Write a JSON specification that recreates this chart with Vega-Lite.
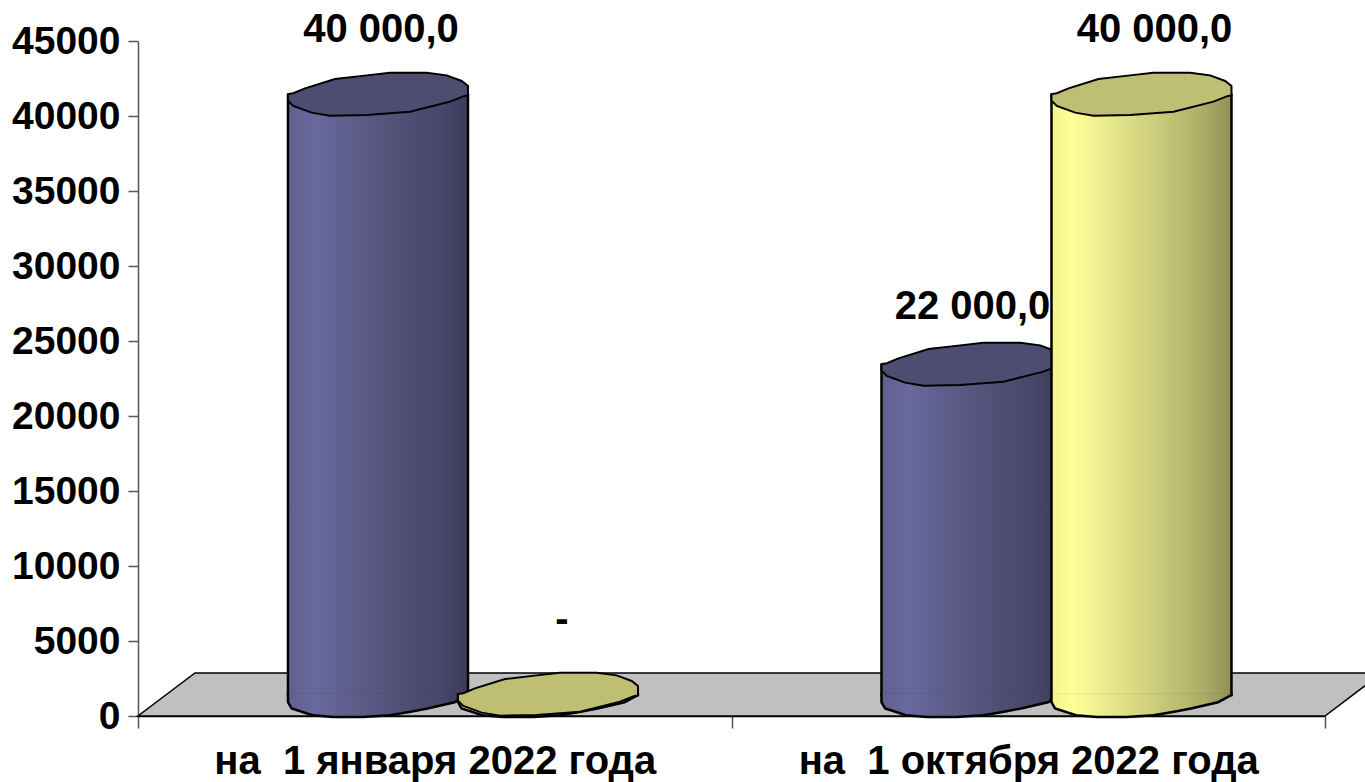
{
"$schema":"https://vega.github.io/schema/vega-lite/v6.json",
"width":1187,"height":675,
"padding":{"left":138,"top":41,"right":40,"bottom":66},
"autosize":{"type":"none"},
"background":"white",
"config":{"view":{"stroke":null},"font":"Liberation Sans"},
"datasets":{"rows":[
{"period":"на \u00a01 января 2022 года","series":"A","value":40000,"label":"40 000,0"},
{"period":"на \u00a01 января 2022 года","series":"B","value":0,"label":"-"},
{"period":"на \u00a01 октября 2022 года","series":"A","value":22000,"label":"22 000,0"},
{"period":"на \u00a01 октября 2022 года","series":"B","value":40000,"label":"40 000,0"}
],"floor":[{"period":"на \u00a01 января 2022 года","value":0}]},
"data":{"name":"rows"},
"encoding":{
"x":{"field":"period","type":"nominal","sort":null,"title":null,"scale":{"paddingInner":0,"paddingOuter":0},
"axis":{"labelAngle":0,"tickBand":"extent","labelFontSize":40,"labelFontWeight":"bold","labelColor":"black","tickColor":"#555555","tickSize":12,"tickWidth":1.5,"domainColor":"black","domainWidth":1.5,"labelPadding":13,"labelLimit":800,"labelBaseline":"top","grid":false}},
"y":{"field":"value","type":"quantitative","title":null,"scale":{"domain":[0,45000],"nice":false},
"axis":{"values":[0,5000,10000,15000,20000,25000,30000,35000,40000,45000],"format":"d","labelFontSize":39,"labelFontWeight":"bold","labelColor":"black","tickColor":"#555555","tickSize":10,"tickWidth":1.5,"domainColor":"#555555","domainWidth":1.5,"labelPadding":8,"grid":false}},
"xOffset":{"field":"series","type":"nominal","scale":{"domain":["A","B"],"paddingInner":0,"paddingOuter":0.7456,"align":0.6114}}
},
"layer":[
{"data":{"name":"floor"},"mark":{"type":"point","filled":true,"opacity":1,"fill":"#c0c0c0","stroke":"black","strokeWidth":1.5,"size":352242,"shape":"M0,0 L4,0 L4.192,-.145 L.192,-.145 Z"},"encoding":{"xOffset":{"value":0},"y":{"field":"value","type":"quantitative"}}},

{"transform":[{"filter":"datum.series==='A'"}],"mark":{"type":"bar","size":180,"yOffset":-21,"y2Offset":-21,"stroke":"black","strokeWidth":2.5,"fill":{"gradient":"linear","x1":0,"x2":1,"y1":0,"y2":0,"stops":[{"offset":0,"color":"#5f5f90"},{"offset":0.15,"color":"#68689c"},{"offset":0.5,"color":"#56567f"},{"offset":0.85,"color":"#46466a"},{"offset":1,"color":"#3a3a5a"}]}},"encoding":{"y2":{"datum":0}}},
{"transform":[{"filter":"datum.series==='A'"}],"mark":{"type":"point","filled":true,"opacity":1,"yOffset":-21,"size":32400,"stroke":"black","strokeWidth":2.5,"fill":{"gradient":"linear","x1":0,"x2":1,"y1":0,"y2":0,"stops":[{"offset":0,"color":"#5f5f90"},{"offset":0.15,"color":"#68689c"},{"offset":0.5,"color":"#56567f"},{"offset":0.85,"color":"#46466a"},{"offset":1,"color":"#3a3a5a"}]},"shape":"M-1,-.02 L-1,.08 L-.96,.15 L-.727,.225 L-.5,.245 L-.167,.245 L.133,.225 L.362,.185 L.55,.15 L.85,.08 L1,0 L1,-.02"},"encoding":{"y":{"datum":0}}},
{"transform":[{"filter":"datum.series==='A'"}],"mark":{"type":"point","filled":true,"opacity":1,"yOffset":-21,"size":32400,"fill":"#4d4d72","stroke":"black","strokeWidth":2,"shape":"M-1,.063 L-1,-.01 L-.941,-.02 L-.811,-.074 L-.478,-.178 L-.126,-.218 L.133,-.248 L.541,-.248 L.763,-.218 L.93,-.156 L1,-.1 L1,.005 L.96,.01 L.8,.074 L.356,.185 L-.126,.222 L-.533,.23 L-.737,.196 L-.941,.122 Z"}},

{"transform":[{"filter":"datum.series==='B'"}],"mark":{"type":"bar","size":180,"yOffset":-21,"y2Offset":-21,"stroke":"black","strokeWidth":2.5,"fill":{"gradient":"linear","x1":0,"x2":1,"y1":0,"y2":0,"stops":[{"offset":0,"color":"#f5f58c"},{"offset":0.12,"color":"#ffff99"},{"offset":0.5,"color":"#d5d582"},{"offset":0.85,"color":"#abab68"},{"offset":1,"color":"#8f8f57"}]}},"encoding":{"y2":{"datum":0}}},
{"transform":[{"filter":"datum.series==='B'"}],"mark":{"type":"point","filled":true,"opacity":1,"yOffset":-21,"size":32400,"stroke":"black","strokeWidth":2.5,"fill":{"gradient":"linear","x1":0,"x2":1,"y1":0,"y2":0,"stops":[{"offset":0,"color":"#f5f58c"},{"offset":0.12,"color":"#ffff99"},{"offset":0.5,"color":"#d5d582"},{"offset":0.85,"color":"#abab68"},{"offset":1,"color":"#8f8f57"}]},"shape":"M-1,-.02 L-1,.08 L-.96,.15 L-.727,.225 L-.5,.245 L-.167,.245 L.133,.225 L.362,.185 L.55,.15 L.85,.08 L1,0 L1,-.02"},"encoding":{"y":{"datum":0}}},
{"transform":[{"filter":"datum.series==='B'"}],"mark":{"type":"point","filled":true,"opacity":1,"yOffset":-21,"size":32400,"fill":"#bfbf73","stroke":"black","strokeWidth":2,"shape":"M-1,.063 L-1,-.01 L-.941,-.02 L-.811,-.074 L-.478,-.178 L-.126,-.218 L.133,-.248 L.541,-.248 L.763,-.218 L.93,-.156 L1,-.1 L1,.005 L.96,.01 L.8,.074 L.356,.185 L-.126,.222 L-.533,.23 L-.737,.196 L-.941,.122 Z"}},

{"transform":[{"filter":"datum.series==='A' && datum.value===40000"}],"mark":{"type":"text","dx":3,"dy":-86,"fontSize":40,"fontWeight":"bold","color":"black"},"encoding":{"text":{"field":"label"}}},
{"transform":[{"filter":"datum.series==='A' && datum.value===22000"}],"mark":{"type":"text","dx":1,"dy":-79,"fontSize":40,"fontWeight":"bold","color":"black"},"encoding":{"text":{"field":"label"}}},
{"transform":[{"filter":"datum.series==='B' && datum.value===40000"}],"mark":{"type":"text","dx":13,"dy":-86,"fontSize":40,"fontWeight":"bold","color":"black"},"encoding":{"text":{"field":"label"}}},
{"transform":[{"filter":"datum.series==='B' && datum.value===0"}],"mark":{"type":"text","dx":14,"dy":-96,"fontSize":40,"fontWeight":"bold","color":"black"},"encoding":{"text":{"field":"label"}}}
]
}
